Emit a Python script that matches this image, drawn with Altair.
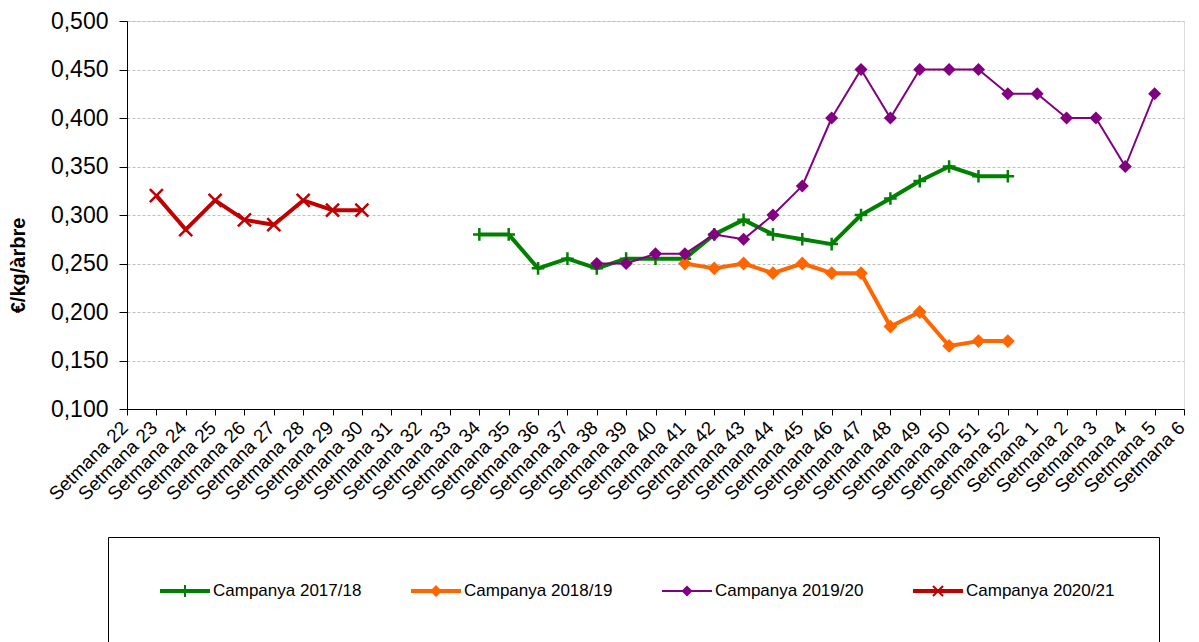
import altair as alt
import pandas as pd

# ---- categories ----
weeks = [f"Setmana {i}" for i in range(22, 53)] + [f"Setmana {i}" for i in range(1, 7)]

# ---- series (start week + values) ----
s1718_start = "Setmana 34"
s1718_vals = [0.280, 0.280, 0.245, 0.255, 0.245, 0.255, 0.255, 0.255, 0.280, 0.295,
              0.280, 0.275, 0.270, 0.300, 0.317, 0.335, 0.350, 0.340, 0.340]

s1819_start = "Setmana 41"
s1819_vals = [0.250, 0.245, 0.250, 0.240, 0.250, 0.240, 0.240, 0.185, 0.200, 0.165,
              0.170, 0.170]

s1920_start = "Setmana 38"
s1920_vals = [0.250, 0.250, 0.260, 0.260, 0.280, 0.275, 0.300, 0.330, 0.400, 0.450,
              0.400, 0.450, 0.450, 0.450, 0.425, 0.425, 0.400, 0.400, 0.350, 0.425]

s2021_start = "Setmana 23"
s2021_vals = [0.320, 0.285, 0.315, 0.295, 0.290, 0.315, 0.305, 0.305]

series_names = ["Campanya 2017/18", "Campanya 2018/19", "Campanya 2019/20", "Campanya 2020/21"]
series_colors = ["#008000", "#FF6600", "#800080", "#C00000"]
y_ticks = [0.100, 0.150, 0.200, 0.250, 0.300, 0.350, 0.400, 0.450, 0.500]

rows = []
for name, start, vals in zip(series_names,
                             [s1718_start, s1819_start, s1920_start, s2021_start],
                             [s1718_vals, s1819_vals, s1920_vals, s2021_vals]):
    i0 = weeks.index(start)
    for k, v in enumerate(vals):
        rows.append({"series": name, "week": weeks[i0 + k], "value": v})
df = pd.DataFrame(rows)

FONT = "Liberation Sans"

x_enc = alt.X(
    "week:N",
    sort=weeks,
    scale=alt.Scale(type="point", domain=weeks, padding=0),
    axis=alt.Axis(title=None, labelAngle=315, labelAlign="right", labelBaseline="top",
                  labelFont=FONT, labelFontSize=19, labelColor="black", labelOffset=-9,
                  tickSize=6, tickColor="black", domainColor="black",
                  labelPadding=3, labelOverlap=False, grid=False),
)
y_enc = alt.Y(
    "value:Q",
    scale=alt.Scale(domain=[0.1, 0.5], nice=False, zero=False),
    axis=alt.Axis(title="€/kg/àrbre", titleFont=FONT, titleFontSize=20, titleFontWeight="bold",
                  titleColor="black", titleX=-99, titleY=244,
                  values=y_ticks,
                  labelExpr="replace(format(datum.value, '.3f'), '.', ',')",
                  labelFont=FONT, labelFontSize=23, labelColor="black",
                  tickSize=8, tickColor="black", domainColor="black", labelPadding=11,
                  grid=True, gridColor="#BFBFBF", gridDash=[3, 2], gridWidth=1),
)

base = alt.Chart(df)

plus_path = "M-1,0H1M0,-1V1"
x_path = "M-1,-1L1,1M1,-1L-1,1"

styles = {
    "Campanya 2017/18": dict(color="#008000", width=4, marker=plus_path, filled=False, size=160),
    "Campanya 2018/19": dict(color="#FF6600", width=4, marker="diamond", filled=True, size=190),
    "Campanya 2019/20": dict(color="#800080", width=2, marker="diamond", filled=True, size=170),
    "Campanya 2020/21": dict(color="#C00000", width=4, marker=x_path, filled=False, size=170),
}

layers = []
for name in series_names:
    st = styles[name]
    sub = base.transform_filter(alt.datum.series == name)
    layers.append(sub.mark_line(color=st["color"], strokeWidth=st["width"], strokeJoin="round")
                  .encode(x=x_enc, y=y_enc))
    if st["filled"]:
        pt = sub.mark_point(shape=st["marker"], filled=True, color=st["color"],
                            size=st["size"], opacity=1)
    else:
        pt = sub.mark_point(shape=st["marker"], filled=False, stroke=st["color"],
                            strokeWidth=2.5, size=st["size"], opacity=1)
    layers.append(pt.encode(x=x_enc, y=y_enc))

# legend symbols: line + marker as filled paths
legend_paths = [
    "M-2.5,-0.2H2.5V0.2H-2.5Z M-0.1,-0.6H0.1V0.6H-0.1Z",
    "M-2.5,-0.2H2.5V0.2H-2.5Z M0,-0.6L0.6,0L0,0.6L-0.6,0Z",
    "M-2.5,-0.1H2.5V0.1H-2.5Z M0,-0.55L0.55,0L0,0.55L-0.55,0Z",
    "M-2.5,-0.2H2.5V0.2H-2.5Z M-0.43,-0.57L0.57,0.43L0.43,0.57L-0.57,-0.43Z "
    "M0.57,-0.43L-0.43,0.57L-0.57,0.43L0.43,-0.57Z",
]

leg = alt.Legend(
    title=None, orient="none", legendX=-19, legendY=516, direction="horizontal",
    columns=4, columnPadding=41, padding=44, strokeColor="black", fillColor="white",
    symbolSize=400, symbolOffset=23, labelOffset=18, symbolStrokeWidth=0,
    labelFont=FONT, labelFontSize=17, labelColor="black", labelLimit=400,
)

legend_layer = base.transform_filter("false").mark_point(filled=True, opacity=1).encode(
    x=x_enc, y=y_enc,
    color=alt.Color("series:N", scale=alt.Scale(domain=series_names, range=series_colors), legend=leg),
    shape=alt.Shape("series:N", scale=alt.Scale(domain=series_names, range=legend_paths), legend=leg),
)

chart = alt.layer(*layers, legend_layer).properties(
    width=1057, height=388,
    autosize=alt.AutoSizeParams(type="none"),
    padding={"left": 119, "top": 13, "right": 7, "bottom": 300},
).configure_view(stroke="#808080", strokeWidth=2).configure(background="white")

chart.save("out.html", embed_options={"renderer": "svg", "actions": False})
